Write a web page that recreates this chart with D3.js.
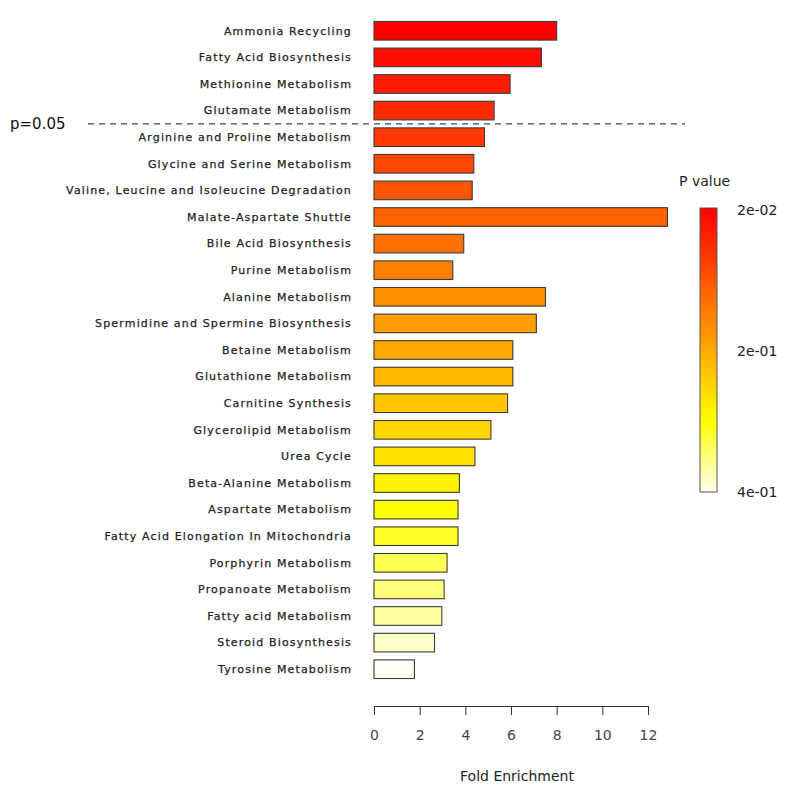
<!DOCTYPE html>
<html>
<head>
<meta charset="utf-8">
<script src="https://cdn.jsdelivr.net/npm/d3@7"></script>
<style>
  html, body { margin: 0; padding: 0; background: #fff; }
  svg { display: block; }
</style>
</head>
<body>
<svg id="chart" width="791" height="792"></svg>
<script>
// ---------------- data ----------------
const categories = [
  "Ammonia Recycling",
  "Fatty Acid Biosynthesis",
  "Methionine Metabolism",
  "Glutamate Metabolism",
  "Arginine and Proline Metabolism",
  "Glycine and Serine Metabolism",
  "Valine, Leucine and Isoleucine Degradation",
  "Malate-Aspartate Shuttle",
  "Bile Acid Biosynthesis",
  "Purine Metabolism",
  "Alanine Metabolism",
  "Spermidine and Spermine Biosynthesis",
  "Betaine Metabolism",
  "Glutathione Metabolism",
  "Carnitine Synthesis",
  "Glycerolipid Metabolism",
  "Urea Cycle",
  "Beta-Alanine Metabolism",
  "Aspartate Metabolism",
  "Fatty Acid Elongation In Mitochondria",
  "Porphyrin Metabolism",
  "Propanoate Metabolism",
  "Fatty acid Metabolism",
  "Steroid Biosynthesis",
  "Tyrosine Metabolism"
];
const foldEnrichment = [
  8.0, 7.33, 5.96, 5.26, 4.84, 4.37, 4.30, 12.85, 3.93, 3.45,
  7.51, 7.11, 6.08, 6.08, 5.85, 5.12, 4.42, 3.74, 3.68, 3.68,
  3.20, 3.07, 2.97, 2.65, 1.77
];
const pValues = [
  0.0195, 0.024, 0.035, 0.045, 0.055, 0.07, 0.075, 0.08, 0.10, 0.12,
  0.14, 0.16, 0.19, 0.20, 0.22, 0.25, 0.27, 0.30, 0.31, 0.31,
  0.33, 0.35, 0.36, 0.38, 0.40
];
const xTicks = [0, 2, 4, 6, 8, 10, 12];
const legendLabels = ["2e-02", "2e-01", "4e-01"];
const pThreshold = 0.05;
const thresholdLabel = "p=0.05";
const xTitle = "Fold Enrichment";
const legendTitle = "P value";

// ---------------- layout ----------------
const svg = d3.select("#chart");
const fontFam = "'DejaVu Sans', sans-serif";
const n = categories.length;

const x = d3.scaleLinear().domain([0, 12]).range([374, 648]);
const y = d3.scaleBand().domain(categories).range([13.5, 686.5]).padding(0.3);

// colour by rank (heat palette: red -> yellow -> white)
const heat = d3.scaleLinear()
  .domain([0, 0.75, 1])
  .range(["#ff0000", "#ffff00", "#fffff2"])
  .interpolate(d3.interpolateRgb);
const rank = d3.scaleLinear().domain([0, n - 1]).range([0, 1]);

const data = categories.map((c, i) => ({ name: c, fe: foldEnrichment[i], p: pValues[i], i }));

// bars
svg.append("g").selectAll("rect")
  .data(data)
  .join("rect")
  .attr("x", x(0))
  .attr("y", d => y(d.name))
  .attr("width", d => x(d.fe) - x(0))
  .attr("height", y.bandwidth())
  .attr("fill", d => heat(rank(d.i)))
  .attr("stroke", "#3a3a3a")
  .attr("stroke-width", 1.1);

// category labels
svg.append("g").selectAll("text")
  .data(data)
  .join("text")
  .attr("x", 352)
  .attr("y", d => y(d.name) + y.bandwidth() / 2)
  .attr("dy", "0.35em")
  .attr("text-anchor", "end")
  .attr("font-family", fontFam)
  .attr("font-size", 11)
  .attr("letter-spacing", "1.15px")
  .attr("fill", "#222")
  .attr("stroke", "#222")
  .attr("stroke-width", 0.25)
  .text(d => d.name);

// threshold line
const firstAbove = data.find(d => d.p >= pThreshold);
const yLine = y(firstAbove.name) - (y.step() - y.bandwidth()) / 2;
svg.append("line")
  .attr("x1", 88).attr("x2", 685)
  .attr("y1", yLine).attr("y2", yLine)
  .attr("stroke", "#444")
  .attr("stroke-width", 1.4)
  .attr("stroke-dasharray", "6,5");
svg.append("text")
  .attr("x", 10).attr("y", yLine)
  .attr("dy", "0.35em")
  .attr("font-family", fontFam)
  .attr("font-size", 15)
  .attr("fill", "#111")
  .text(thresholdLabel);

// x axis
const axisY = 706;
const xAxis = d3.axisBottom(x).tickValues(xTicks).tickSize(9).tickPadding(15).tickSizeOuter(0);
const gx = svg.append("g").attr("transform", `translate(0,${axisY})`).call(xAxis);
gx.select(".domain").attr("stroke", "#333");
gx.selectAll(".tick line").attr("stroke", "#333");
gx.selectAll(".tick text").attr("font-family", fontFam).attr("font-size", 14).attr("fill", "#444");

svg.append("text")
  .attr("x", (x(0) + x(12)) / 2 + 6)
  .attr("y", 781)
  .attr("text-anchor", "middle")
  .attr("font-family", fontFam)
  .attr("font-size", 14)
  .attr("fill", "#222")
  .text(xTitle);

// legend colour bar
const legX = 700, legW = 17, legTop = 208, legBottom = 492;
const defs = svg.append("defs");
const grad = defs.append("linearGradient").attr("id", "pgrad")
  .attr("x1", 0).attr("x2", 0).attr("y1", 0).attr("y2", 1);
d3.range(0, 1.0001, 0.05).forEach(t => {
  grad.append("stop").attr("offset", t).attr("stop-color", heat(t));
});
svg.append("rect")
  .attr("x", legX).attr("y", legTop)
  .attr("width", legW).attr("height", legBottom - legTop)
  .attr("fill", "url(#pgrad)")
  .attr("stroke", "#555").attr("stroke-width", 1);

const legScale = d3.scalePoint().domain(legendLabels).range([legTop + 2, legBottom]);
svg.append("g").selectAll("text")
  .data(legendLabels)
  .join("text")
  .attr("x", 737)
  .attr("y", d => legScale(d))
  .attr("dy", "0.35em")
  .attr("font-family", fontFam)
  .attr("font-size", 14)
  .attr("fill", "#222")
  .text(d => d);

svg.append("text")
  .attr("x", 679).attr("y", 181)
  .attr("dy", "0.35em")
  .attr("font-family", fontFam)
  .attr("font-size", 14)
  .attr("fill", "#222")
  .text(legendTitle);
</script>
</body>
</html>
